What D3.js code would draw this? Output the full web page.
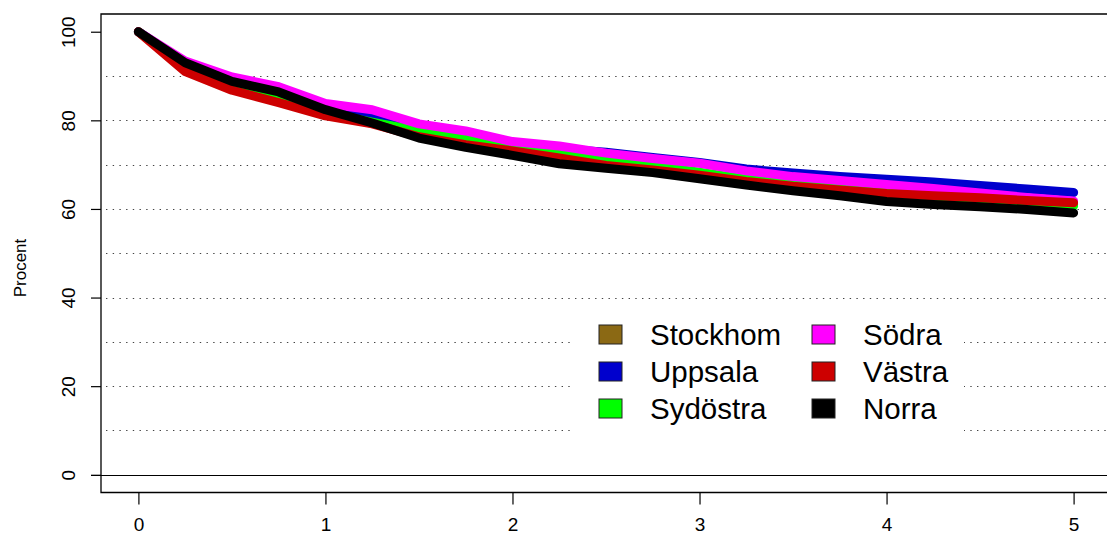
<!DOCTYPE html>
<html><head><meta charset="utf-8">
<script src="https://cdn.jsdelivr.net/npm/d3@7"></script>
<style>
body{margin:0;background:#fff;}
svg{display:block;font-family:"Liberation Sans",Arial,sans-serif;}
.tick text{font-family:"Liberation Sans",Arial,sans-serif;font-size:19px;fill:#000;}
</style></head>
<body>
<svg id="chart" width="1107" height="538"></svg>
<script>
const times = [0,0.25,0.5,0.75,1,1.25,1.5,1.75,2,2.25,2.5,2.75,3,3.25,3.5,3.75,4,4.25,4.5,4.75,5];
const seriesNames = ["Stockhom","Uppsala","Sydöstra","Södra","Västra","Norra"];
const seriesColors = ["#8B6914","#0000CD","#00FF00","#FF00FF","#CD0000","#000000"];
const stockholm = [100,92.0,87.5,85.0,81.5,79.3,77.0,75.3,73.6,72.0,70.4,69.3,68.0,66.5,65.3,64.5,63.7,62.9,62.3,61.6,61.0];
const uppsala   = [100,92.9,88.6,86.0,83.0,80.9,78.4,76.6,74.8,73.6,72.8,71.6,70.5,69.0,68.1,67.3,66.7,66.1,65.3,64.5,63.7];
const sydostra  = [100,92.2,87.6,85.2,81.6,79.6,77.6,76.2,74.0,72.7,70.8,69.7,68.3,66.7,65.5,64.8,64.0,63.0,62.2,61.4,60.7];
const sodra     = [100,93.4,89.8,87.6,83.8,82.4,79.2,77.6,75.2,74.2,72.6,71.4,70.3,68.6,67.3,66.4,65.5,64.6,63.6,62.6,61.8];
const vastra    = [100,91.0,86.8,84.0,81.0,79.2,76.3,74.5,73.1,71.5,69.8,68.8,67.6,66.2,65.1,64.3,63.5,63.0,62.5,61.9,61.4];
const norra     = [100,93.0,88.8,86.4,82.4,79.4,76.0,73.9,72.1,70.2,69.2,68.2,66.8,65.4,64.1,63.0,61.7,61.0,60.5,59.9,59.1];
const seriesValues = [stockholm,uppsala,sydostra,sodra,vastra,norra];
const xTicks = [0,1,2,3,4,5];
const yTicks = [0,20,40,60,80,100];
const gridValues = [10,20,30,40,50,60,70,80,90];
const yLabel = "Procent";

const svg = d3.select("#chart");
const x = d3.scaleLinear().domain([-0.2,5.2]).range([101,1111]);
const y = d3.scaleLinear().domain([-4,104]).range([492.5,14]);

// grid
svg.append("g").selectAll("line").data(gridValues).join("line")
  .attr("x1",106).attr("x2",1107)
  .attr("y1",d=>Math.round(y(d))+0.5).attr("y2",d=>Math.round(y(d))+0.5)
  .attr("stroke","#444").attr("stroke-width",1).attr("stroke-dasharray","1.4,5.3");

// zero line
svg.append("line").attr("x1",91).attr("x2",1107)
  .attr("y1",Math.round(y(0))+0.5).attr("y2",Math.round(y(0))+0.5)
  .attr("stroke","#000").attr("stroke-width",1.2);

// box
svg.append("path").attr("d",`M1108,${y(104)}H${x(-0.2)}V${y(-4)}H1108`)
  .attr("fill","none").attr("stroke","#000").attr("stroke-width",1.3);

// axes
const xAxis = svg.append("g").attr("transform",`translate(0,${y(-4)})`)
  .call(d3.axisBottom(x).tickValues(xTicks).tickSize(12).tickPadding(13).tickFormat(d3.format("d")));
xAxis.select(".domain").remove();
xAxis.selectAll("line").attr("stroke-width",1.2);

const yAxis = svg.append("g").attr("transform",`translate(${x(-0.2)},0)`)
  .call(d3.axisLeft(y).tickValues(yTicks).tickSize(10).tickFormat(d3.format("d")));
yAxis.select(".domain").remove();
yAxis.selectAll("line").attr("stroke-width",1.2);
yAxis.selectAll("text")
  .attr("text-anchor","middle").attr("dy",null).attr("x",null)
  .attr("transform",d=>`translate(-33,0) rotate(-90) translate(0,7)`);

svg.append("text").attr("transform",`translate(26,268) rotate(-90)`)
  .attr("text-anchor","middle").style("font-size","17px").text(yLabel);

// lines
const line = d3.line().x((d,i)=>x(times[i])).y(d=>y(d));
svg.append("g").selectAll("path").data(seriesValues).join("path")
  .attr("d",d=>line(d)).attr("fill","none")
  .attr("stroke",(d,i)=>seriesColors[i]).attr("stroke-width",9)
  .attr("stroke-linejoin","round").attr("stroke-linecap","round");

// legend
const lg = svg.append("g");
lg.append("rect").attr("x",572).attr("y",312).attr("width",392).attr("height",128).attr("fill","#fff");
const items = lg.selectAll("g").data(seriesNames).join("g")
  .attr("transform",(d,i)=>`translate(${i<3?599:812},${325+ (i%3)*37})`);
items.append("rect").attr("width",23).attr("height",19)
  .attr("fill",(d,i)=>seriesColors[i]).attr("stroke","#222").attr("stroke-width",1);
items.append("text").attr("x",51).attr("y",20).attr("font-size",29.5).text(d=>d);
</script>
</body></html>
